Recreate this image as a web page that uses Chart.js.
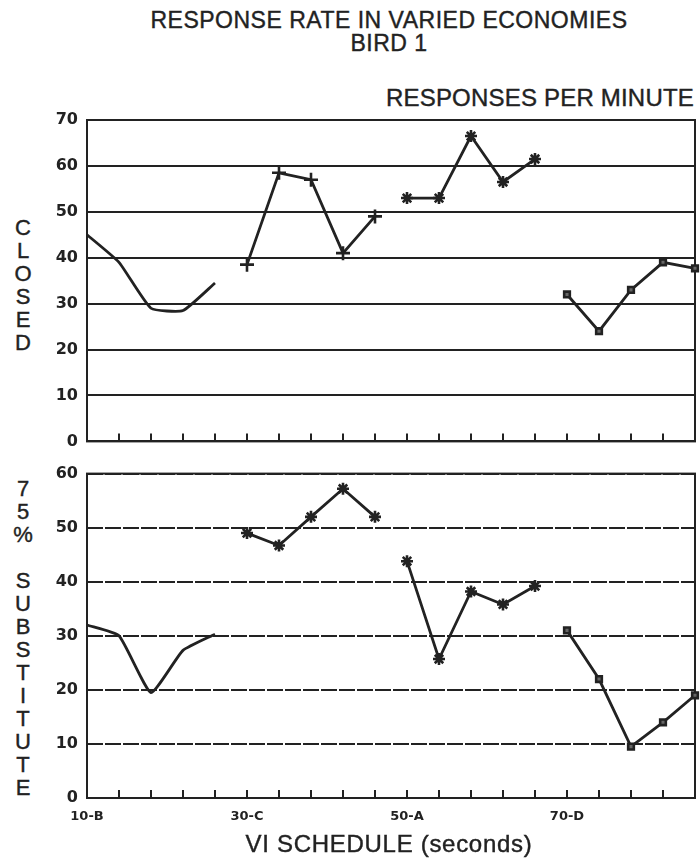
<!DOCTYPE html>
<html>
<head>
<meta charset="utf-8">
<script src="https://cdn.jsdelivr.net/npm/chart.js"></script>
<style>
  body { margin: 0; background: #fff; overflow: hidden; }
  #wrap { position: relative; width: 700px; height: 862px; font-family: "Liberation Sans", Arial, sans-serif; color: #222; -webkit-text-stroke: 0.4px #222; }
  .txt { position: absolute; white-space: nowrap; }
  .vert { position: absolute; width: 30px; text-align: center; font-size: 22px; line-height: 23px; }
  canvas { position: absolute; left: 0; }
</style>
</head>
<body>
<div id="wrap">
  <div class="txt" style="left:0;width:778px;top:9px;text-align:center;font-size:23px;line-height:23px;letter-spacing:0.5px">RESPONSE RATE IN VARIED ECONOMIES<br>BIRD 1</div>
  <div class="txt" style="right:6px;top:84px;font-size:24px;letter-spacing:0.2px">RESPONSES PER MINUTE</div>
  <div class="vert" id="closedLabel" style="left:8px;top:216px"></div>
  <div class="vert" id="substLabel" style="left:8px;top:477px"></div>
  <canvas id="closedChart" width="700" height="360" style="top:100px"></canvas>
  <canvas id="substChart" width="700" height="407" style="top:455px"></canvas>
  <div class="txt" style="left:0;width:778px;top:830px;text-align:center;font-size:24px;letter-spacing:0.7px">VI SCHEDULE (seconds)</div>
</div>
<script>
// VI schedules, 5 sessions each
const schedules = ['10-B', '30-C', '50-A', '70-D'];
const sessionsPerSchedule = 5;

// closed economy, responses per minute
const closed10B = [45, 39, 29, 28.5, 34.5];
const closed30C = [38.5, 58.5, 57, 41, 49];
const closed50A = [53, 53, 66.5, 56.5, 61.5];
const closed70D = [32, 24, 33, 39, 37.7];

// 75% substitute economy
const subst10B = [32, 30, 19.5, 27.3, 30.3];
const subst30C = [49, 46.7, 52, 57.2, 52];
const subst50A = [43.8, 25.7, 38.2, 35.8, 39.2];
const subst70D = [31, 22, 9.5, 14, 19];

const closedTicks = [0, 10, 20, 30, 40, 50, 60, 70];
const substTicks = [0, 10, 20, 30, 40, 50, 60];

const ink = '#222';

// x labels: schedule name on first session only
const xLabels = [];
schedules.forEach(s => {
  for (let i = 0; i < sessionsPerSchedule; i++) xLabels.push(i === 0 ? s : '');
});

const pad = (values, block) => {
  const arr = new Array(xLabels.length).fill(null);
  values.forEach((v, i) => { arr[block * sessionsPerSchedule + i] = v; });
  return arr;
};

document.getElementById('closedLabel').innerHTML = 'CLOSED'.split('').join('<br>');
document.getElementById('substLabel').innerHTML = '75%'.split('').join('<br>') + '<br>&nbsp;<br>' + 'SUBSTITUTE'.split('').join('<br>');

const frameTicks = {
  id: 'frameTicks',
  beforeDatasetsDraw(chart) {
    const { ctx, chartArea: a, scales: { x } } = chart;
    ctx.save();
    ctx.strokeStyle = ink;
    ctx.lineWidth = 2;
    ctx.strokeRect(a.left, a.top, a.right - a.left, a.bottom - a.top);
    for (let i = 1; i < xLabels.length - 1; i++) {
      const px = x.getPixelForValue(i);
      ctx.beginPath();
      ctx.moveTo(px, a.bottom);
      ctx.lineTo(px, a.bottom - 8);
      ctx.stroke();
    }
    ctx.restore();
  }
};

const series = (data, style, radius, tension) => ({
  data: data,
  borderColor: ink,
  borderWidth: 2.8,
  backgroundColor: style === 'rect' ? '#666' : ink,
  pointStyle: style || 'circle',
  pointRadius: style ? radius : 0,
  pointBorderWidth: 2.6,
  pointBorderColor: ink,
  tension: tension || 0,
  clip: 6
});

const makeChart = (id, sets, max, ticks, showLabels, padTop, xHeight, dashed) => new Chart(document.getElementById(id), {
  type: 'line',
  data: { labels: xLabels, datasets: sets },
  options: {
    responsive: false,
    animation: false,
    layout: { autoPadding: false, padding: { top: padTop, right: 5, left: 0, bottom: 0 } },
    plugins: { legend: { display: false }, tooltip: { enabled: false } },
    scales: {
      x: {
        offset: false,
        grid: { display: false },
        border: { display: false },
        ticks: {
          display: showLabels,
          autoSkip: false,
          maxRotation: 0,
          padding: 3,
          color: ink,
          font: { family: 'DejaVu Sans', size: 13, weight: 'bold' }
        },
        afterFit: s => { s.height = xHeight; }
      },
      y: {
        min: 0,
        max: max,
        afterBuildTicks: s => { s.ticks = ticks.map(v => ({ value: v })); },
        grid: { color: ink, lineWidth: 2, drawTicks: false },
        border: { display: false, dash: dashed ? [16, 2] : [] },
        ticks: {
          padding: 9,
          color: ink,
          font: { family: 'DejaVu Sans', size: 16, weight: 'bold' }
        },
        afterFit: s => { s.width = 87; }
      }
    }
  },
  plugins: [frameTicks]
});

makeChart('closedChart', [
  series(pad(closed10B, 0), null, 0, 0.15),
  series(pad(closed30C, 1), 'cross', 7),
  series(pad(closed50A, 2), 'star', 6),
  series(pad(closed70D, 3), 'rect', 4)
], 70, closedTicks, false, 20, 9, false);

makeChart('substChart', [
  series(pad(subst10B, 0), null, 0, 0.15),
  series(pad(subst30C, 1), 'star', 6),
  series(pad(subst50A, 2), 'star', 6),
  series(pad(subst70D, 3), 'rect', 4)
], 60, substTicks, true, 17, 64, true);
</script>
</body>
</html>
